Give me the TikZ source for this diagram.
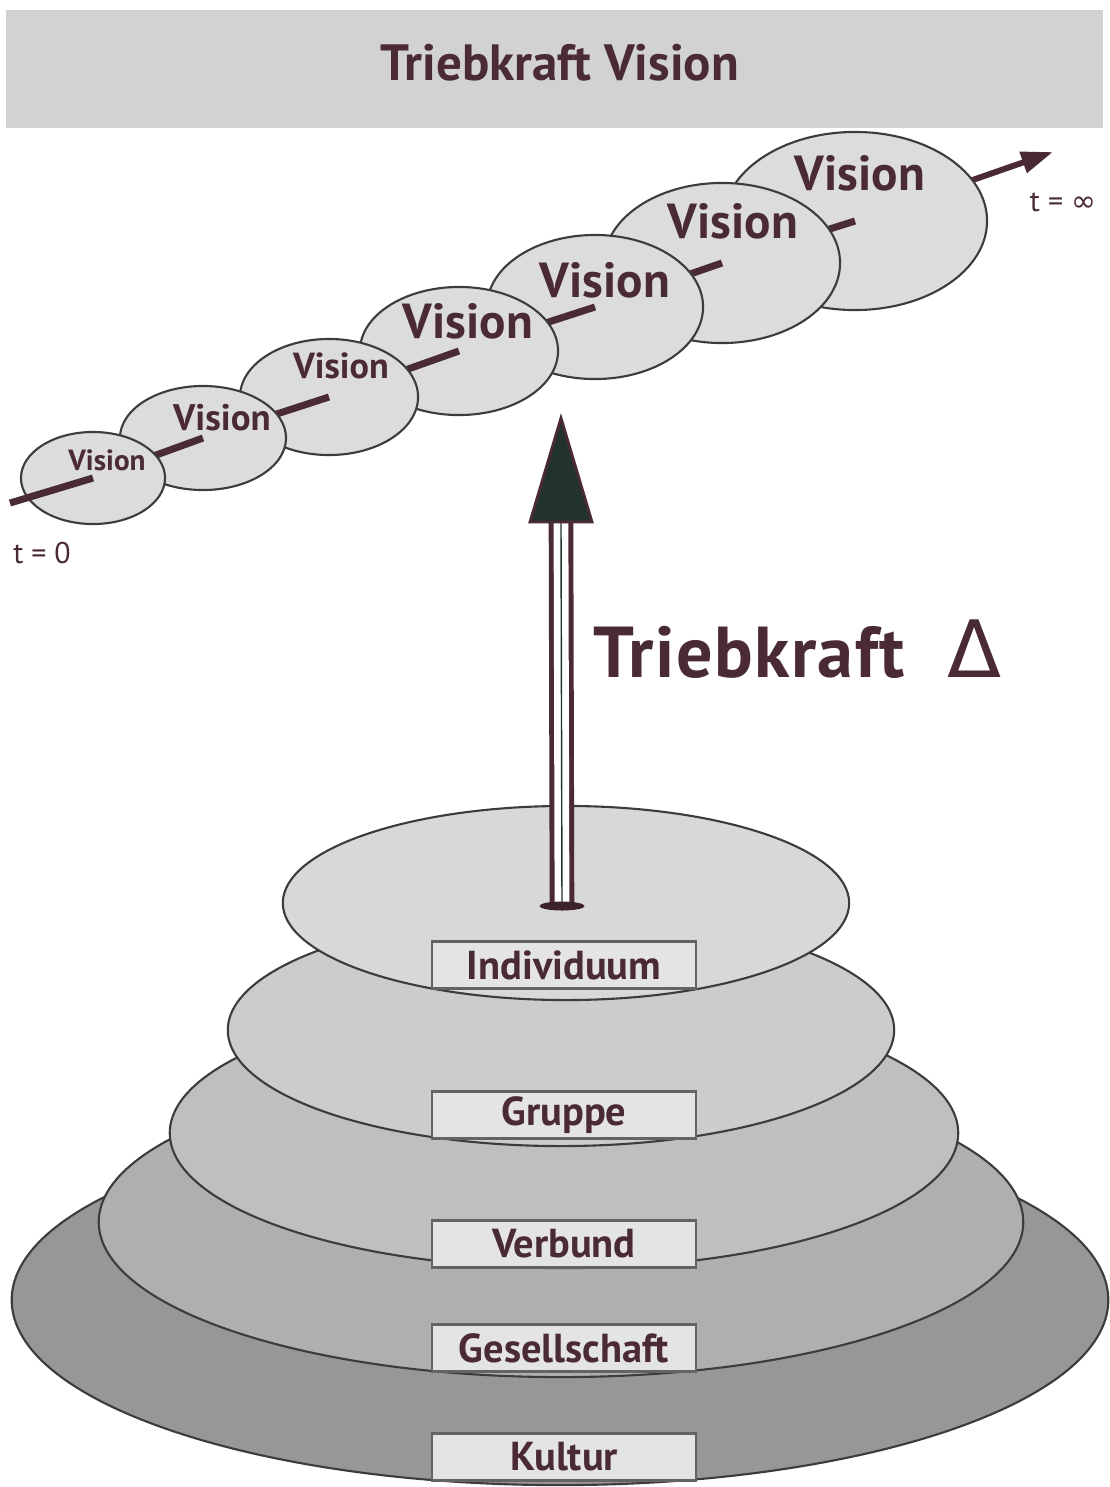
\documentclass[tikz,border=0pt]{standalone}
\usepackage{fontspec}
\setmainfont{PT Sans}
\newfontfamily\symfont{DejaVu Sans}
\usetikzlibrary{arrows.meta, shapes.geometric}
\definecolor{ink}{HTML}{4A2A36}
\definecolor{outl}{HTML}{3C3C3C}
\definecolor{band}{HTML}{D2D2D2}
\definecolor{visfill}{HTML}{DCDCDC}
\definecolor{tierA}{HTML}{D8D8D8}
\definecolor{tierB}{HTML}{CCCCCC}
\definecolor{tierC}{HTML}{BFBFBF}
\definecolor{tierD}{HTML}{AFAFAF}
\definecolor{tierE}{HTML}{979797}
\definecolor{boxfill}{HTML}{E4E4E4}
\definecolor{headgreen}{HTML}{22332E}

\begin{document}
\begin{tikzpicture}[
  x=0.01cm, y=-0.01cm,
  >={Triangle[length=9pt, width=6pt]},
  visell/.style={ellipse, draw=outl, line width=0.6pt, fill=visfill, inner sep=0pt},
  vislbl/.style={font=\fontsize{#1}{#1}\selectfont\bfseries, text=ink, anchor=base, inner sep=0pt},
  tier/.style={ellipse, draw=outl, line width=0.6pt, fill=#1, inner sep=0pt},
  lvlbox/.style={
    draw=outl!80, line width=0.6pt, fill=boxfill, minimum width=2.63cm,
    minimum height=0.47cm, inner sep=0pt, text=ink,
    font=\fontsize{11.5}{13}\selectfont\bfseries
  },
  axis/.style={line width=2pt, ink},
  shaft/.style={draw=ink, line width=1.4pt, double=white, double distance=4.2pt},
  tlbl/.style={font=\fontsize{8.5}{10}\selectfont, text=ink, inner sep=0pt},
]
\useasboundingbox (0,0) rectangle (1110,1487);

% Title
\node[fill=band, minimum width=10.97cm, minimum height=1.18cm, inner sep=0pt]
  (band) at (554.5,69) {};
\node[font=\fontsize{14.5}{16}\selectfont\bfseries, text=ink, anchor=base,
      inner sep=0pt] (title) at (560,80) {Triebkraft Vision};

% =============================================
% Vision chain (t = 0 ... t = infinity)
% =============================================
\coordinate (c1) at (93,478);
\coordinate (c2) at (203,438);
\coordinate (c3) at (329,397);
\coordinate (c4) at (459,351);
\coordinate (c5) at (595,307);
\coordinate (c6) at (722,263);
\coordinate (c7) at (855,221);
\coordinate (tstart) at (10,503);
\coordinate (tend) at (1053,152);

\draw[axis, line width=1.7pt, ->] (c7) -- (tend);

\node[visell, minimum width=2.64cm, minimum height=1.78cm] (v7) at (c7) {};
\node[vislbl=14] (l7) at (860,190) {Vision};
\draw[axis] (v7.center) -- (c6);

\node[visell, minimum width=2.36cm, minimum height=1.60cm] (v6) at (c6) {};
\node[vislbl=14] (l6) at (733,238) {Vision};
\draw[axis] (v6.center) -- (c5);

\node[visell, minimum width=2.16cm, minimum height=1.44cm] (v5) at (c5) {};
\node[vislbl=14] (l5) at (605,297) {Vision};
\draw[axis] (v5.center) -- (c4);

\node[visell, minimum width=1.98cm, minimum height=1.28cm] (v4) at (c4) {};
\node[vislbl=14] (l4) at (468,338) {Vision};
\draw[axis] (v4.center) -- (c3);

\node[visell, minimum width=1.78cm, minimum height=1.16cm] (v3) at (c3) {};
\node[vislbl=10.3] (l3) at (341,378) {Vision};
\draw[axis] (v3.center) -- (c2);

\node[visell, minimum width=1.66cm, minimum height=1.04cm] (v2) at (c2) {};
\node[vislbl=10.5] (l2) at (222,430) {Vision};
\draw[axis] (v2.center) -- (c1);

\node[visell, minimum width=1.44cm, minimum height=0.92cm] (v1) at (c1) {};
\node[vislbl=8.3] (l1) at (107,470) {Vision};
\draw[axis] (v1.center) -- (tstart);

\node[tlbl] (t0) at (42,553) {t = 0};
\node[tlbl] (tinf) at (1063,202) {t = {\symfont ∞}};

% =============================================
% Stacked levels
% =============================================
\node[tier=tierE, minimum width=10.96cm, minimum height=3.70cm] (kultur) at (560,1300) {};
\node[lvlbox] (kultur-lbl) at (564,1457) {Kultur};

\node[tier=tierD, minimum width=9.24cm, minimum height=3.10cm] (gesellschaft) at (561,1222) {};
\node[lvlbox] (gesellschaft-lbl) at (564,1348) {Gesellschaft};

\node[tier=tierC, minimum width=7.88cm, minimum height=2.70cm] (verbund) at (564,1133) {};
\node[lvlbox] (verbund-lbl) at (564,1244) {Verbund};

\node[tier=tierB, minimum width=6.66cm, minimum height=2.32cm] (gruppe) at (561,1030) {};
\node[lvlbox] (gruppe-lbl) at (564,1115) {Gruppe};

\node[tier=tierA, minimum width=5.66cm, minimum height=1.94cm] (individuum) at (566,903) {};
\node[lvlbox] (individuum-lbl) at (564,965) {Individuum};

% =============================================
% Driving force arrow
% =============================================
\coordinate (base) at (562,906);
\coordinate (neck) at (561,522);
\coordinate (tip) at (561,418);
\draw[shaft] (base) -- (neck);
\draw[headgreen, line width=0.4pt] (base) -- (neck);
\node[ellipse, fill=ink!80!black, minimum width=0.45cm, minimum height=0.09cm,
      inner sep=0pt] (foot) at (base) {};
\filldraw[fill=headgreen, draw=ink, line width=0.8pt, line join=miter]
  (tip) -- ([xshift=-0.31cm]neck) -- ([xshift=0.31cm]neck) -- cycle;

\node[font=\fontsize{20.5}{22}\selectfont, text=ink, anchor=base west, inner sep=0pt]
  (force) at (593,677)
  {{\bfseries\addfontfeature{LetterSpace=2}Triebkraft}\hspace{0.6em}{\symfont\fontsize{22.5}{23}\selectfont Δ}};

\end{tikzpicture}
\end{document}
